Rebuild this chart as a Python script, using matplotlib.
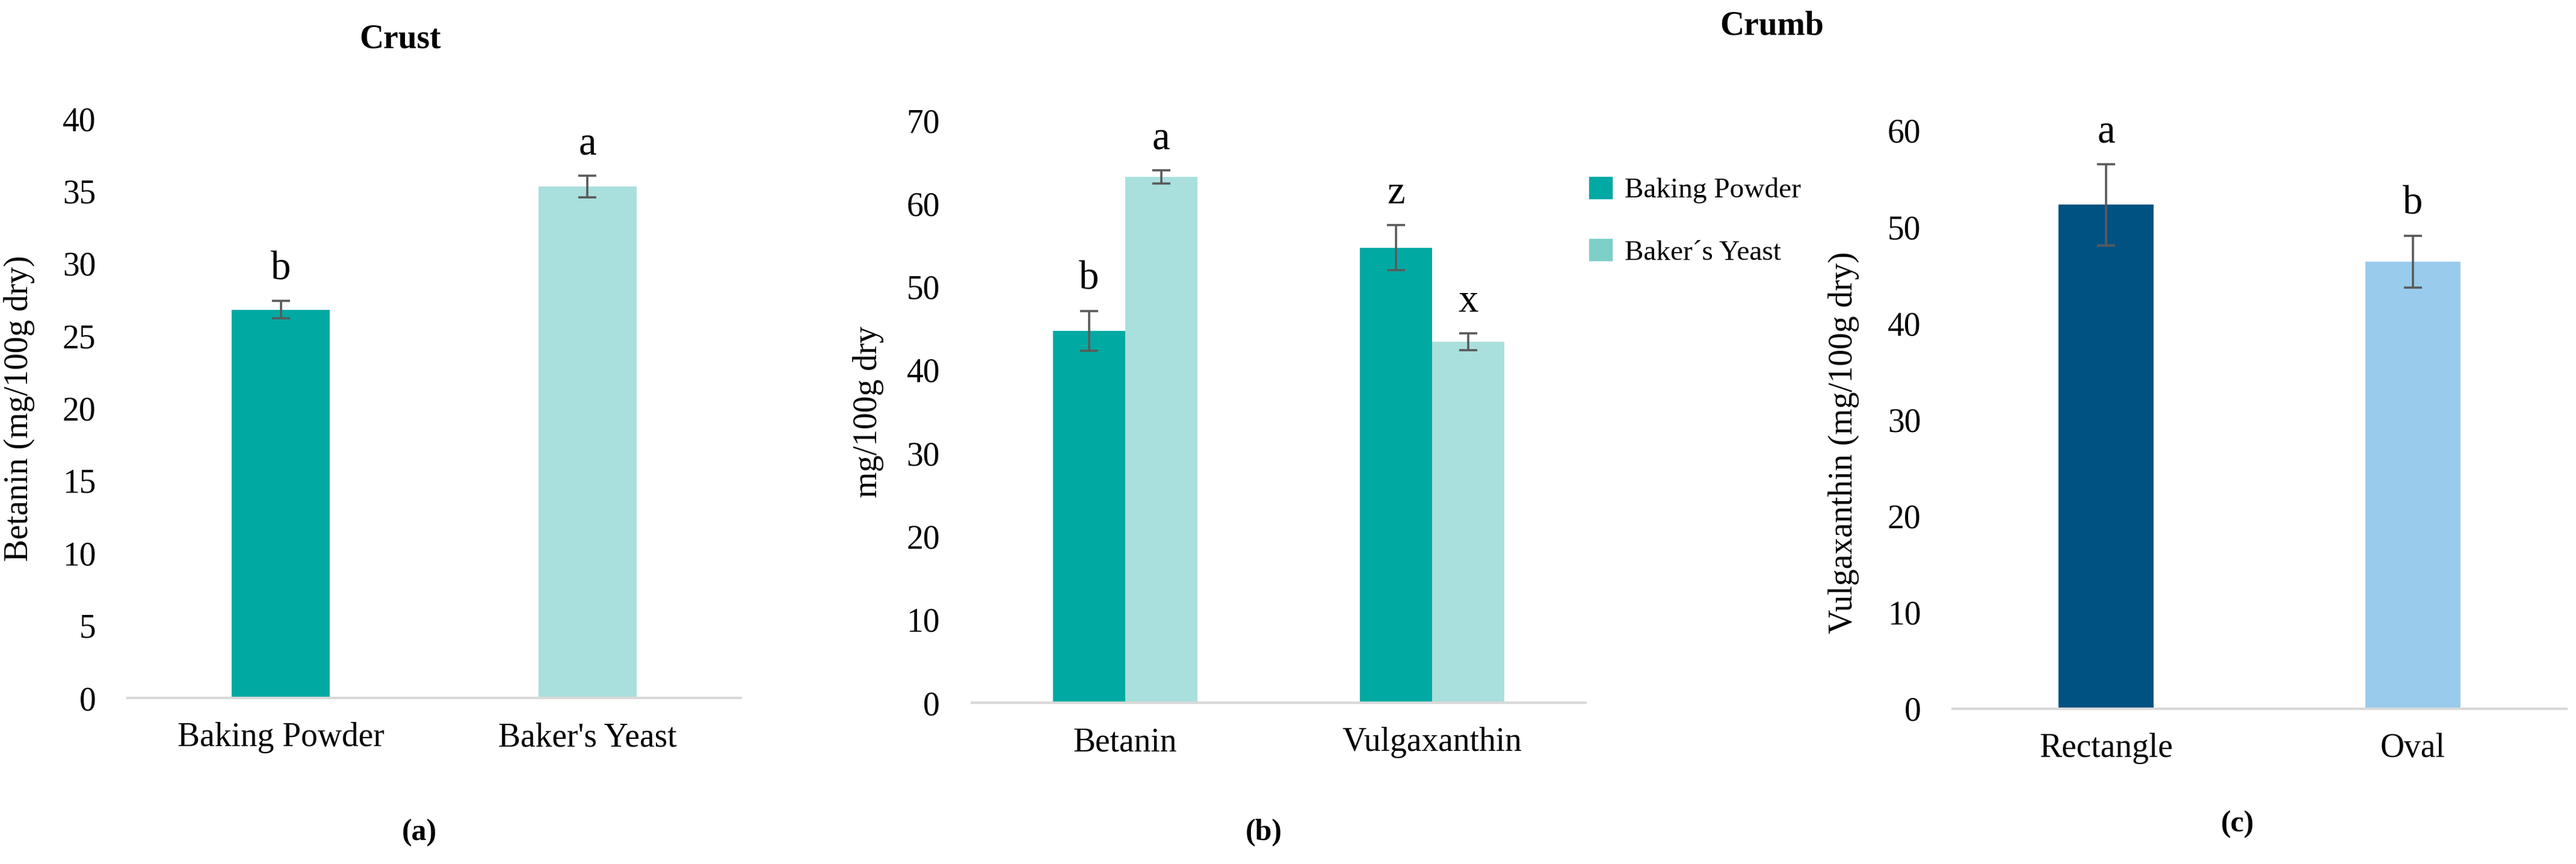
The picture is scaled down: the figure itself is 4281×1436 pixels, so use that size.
import numpy as np
import matplotlib
matplotlib.use('Agg')
import matplotlib.pyplot as plt
from matplotlib.patches import Patch

# datos
crust_labels = ['Baking Powder', "Baker's Yeast"]
crust_means = [26.8, 35.3]
crust_err = [0.6, 0.75]
crust_letters = ['b', 'a']

crumb_pigments = ['Betanin', 'Vulgaxanthin']
crumb_bp = [44.7, 54.7]
crumb_bp_err = [2.4, 2.7]
crumb_bp_letters = ['b', 'z']
crumb_by = [63.2, 43.4]
crumb_by_err = [0.8, 1.0]
crumb_by_letters = ['a', 'x']

shape_labels = ['Rectangle', 'Oval']
shape_means = [52.3, 46.4]
shape_err = [4.2, 2.7]
shape_letters = ['a', 'b']

TEAL = '#00a9a2'
LTEAL = '#a9dfdc'
NAVY = '#005282'
LBLUE = '#99cbec'
ERR = '#5a5a5a'

plt.rcParams['font.family'] = ['Liberation Serif', 'DejaVu Serif']

fig = plt.figure(figsize=(42.81, 14.36), dpi=100)
ax_a = fig.add_axes([0.0495, 0.1922, 0.238, 0.6706])
ax_b = fig.add_axes([0.3772, 0.1866, 0.2383, 0.674])
ax_c = fig.add_axes([0.758, 0.1797, 0.2383, 0.6692])

err_kw = dict(ecolor=ERR, elinewidth=2.6, capsize=11, capthick=2.6)


def style(ax, ymax, step):
    ax.set_ylim(0, ymax)
    ax.set_yticks(np.arange(0, ymax + 1, step))
    ax.set_xlim(-0.5, 1.5)
    for s in ['top', 'right', 'left']:
        ax.spines[s].set_visible(False)
    ax.spines['bottom'].set_color('#d9d9d9')
    ax.spines['bottom'].set_linewidth(3)
    ax.tick_params(axis='y', length=0, pad=38, labelsize=40)
    ax.tick_params(axis='x', length=0, pad=29, labelsize=40)


def letters(ax, xs, tops, labs):
    for x, t, l in zip(xs, tops, labs):
        ax.annotate(l, (x, t), xytext=(0, 26), textcoords='offset points',
                    ha='center', va='baseline', fontsize=48)


# (a) Crust
x = np.arange(len(crust_labels))
ax_a.bar(x, crust_means, width=0.32, color=[TEAL, LTEAL],
         yerr=crust_err, error_kw=err_kw)
ax_a.set_xticks(x)
ax_a.set_xticklabels(crust_labels)
style(ax_a, 40, 5)
letters(ax_a, x, np.add(crust_means, crust_err), crust_letters)
ax_a.set_ylabel('Betanin (mg/100g dry)', fontsize=40)
ax_a.yaxis.set_label_coords(-0.151, 0.5)

# (b) Crumb
x = np.arange(len(crumb_pigments))
w = 0.235
ax_b.bar(x - w / 2, crumb_bp, width=w, color=TEAL, yerr=crumb_bp_err, error_kw=err_kw)
ax_b.bar(x + w / 2, crumb_by, width=w, color=LTEAL, yerr=crumb_by_err, error_kw=err_kw)
ax_b.set_xticks(x)
ax_b.set_xticklabels(crumb_pigments)
style(ax_b, 70, 10)
letters(ax_b, x - w / 2, np.add(crumb_bp, crumb_bp_err), crumb_bp_letters)
letters(ax_b, x + w / 2, np.add(crumb_by, crumb_by_err), crumb_by_letters)
ax_b.set_ylabel('mg/100g dry', fontsize=40)
ax_b.yaxis.set_label_coords(-0.143, 0.5)

handles = [Patch(color=TEAL, label='Baking Powder'),
           Patch(color='#7dcfc9', label='Baker´s Yeast')]
fig.legend(handles=handles, loc='upper left', bbox_to_anchor=(0.607, 0.825),
           frameon=False, fontsize=34, handlelength=0.8, handleheight=0.8,
           labelspacing=1.25, handletextpad=0.45)

# (c) forma
x = np.arange(len(shape_labels))
ax_c.bar(x, shape_means, width=0.31, color=[NAVY, LBLUE],
         yerr=shape_err, error_kw=err_kw)
ax_c.set_xticks(x)
ax_c.set_xticklabels(shape_labels)
style(ax_c, 60, 10)
letters(ax_c, x, np.add(shape_means, shape_err), shape_letters)
ax_c.set_ylabel('Vulgaxanthin (mg/100g dry)', fontsize=40)
ax_c.yaxis.set_label_coords(-0.152, 0.46)

# titulos y letras de panel
fig.text(0.1553, 0.9547, 'Crust', ha='center', va='center', fontsize=40, fontweight='bold')
fig.text(0.6879, 0.970, 'Crumb', ha='center', va='center', fontsize=40, fontweight='bold')
fig.text(0.1628, 0.036, '(a)', ha='center', va='center', fontsize=36, fontweight='bold')
fig.text(0.4905, 0.036, '(b)', ha='center', va='center', fontsize=36, fontweight='bold')
fig.text(0.8687, 0.046, '(c)', ha='center', va='center', fontsize=36, fontweight='bold')

fig.savefig('out.png', dpi=100, facecolor='white')
